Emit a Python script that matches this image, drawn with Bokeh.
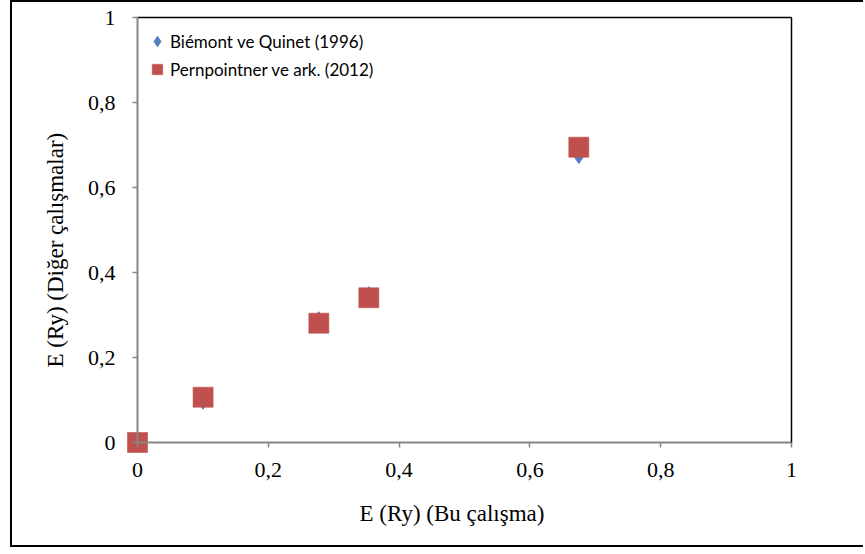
from bokeh.plotting import figure
from bokeh.models import (Range1d, FixedTicker, LinearAxis, Legend, LegendItem,
                          Title, ColumnDataSource)
from bokeh.embed import file_html
from bokeh.resources import INLINE

# ---- data ----
bu_calisma = [0.0, 0.1003, 0.2773, 0.3537, 0.6748]
biemont_quinet = [0.0, 0.096, 0.290, 0.349, 0.674]
pernpointner = [0.0, 0.1066, 0.2808, 0.3405, 0.6948]
series_names = ["Biémont ve Quinet (1996)", "Pernpointner ve ark. (2012)"]
tick_values = [0.0, 0.2, 0.4, 0.6, 0.8, 1.0]
tick_labels = ["0", "0,2", "0,4", "0,6", "0,8", "1"]
x_title = "E (Ry) (Bu çalışma)"
y_title = "E (Ry) (Diğer çalışmalar)"

BLUE = "#4F81BD"
RED = "#C0504D"
AXIS_GRAY = "#868686"
SERIF = "Liberation Serif"

PAD_X = 20 / 654   # room so that markers on the axes are not cut
PAD_Y = 13 / 425

p = figure(width=853, height=547, output_backend="svg", toolbar_location=None,
           x_range=Range1d(-PAD_X, 1 + PAD_X), y_range=Range1d(-PAD_Y, 1 + PAD_Y),
           min_border_left=105, min_border_right=54, min_border_top=2,
           min_border_bottom=94, background_fill_color="white",
           border_fill_color="white", outline_line_color=None)
p.styles = {"margin-left": "10px", "border-left": "2px solid black",
            "border-top": "2px solid black", "border-bottom": "2px solid black"}
p.xgrid.visible = False
p.ygrid.visible = False

# label-only axes (in the side panels)
overrides = {v: l for v, l in zip(tick_values, tick_labels)}
for ax in (p.xaxis[0], p.yaxis[0]):
    ax.ticker = FixedTicker(ticks=tick_values)
    ax.major_label_overrides = overrides
    ax.axis_line_color = None
    ax.major_tick_line_color = None
    ax.major_tick_in = 0
    ax.major_tick_out = 0
    ax.minor_tick_line_color = None
    ax.minor_tick_in = 0
    ax.minor_tick_out = 0
    ax.major_label_text_font = SERIF
    ax.major_label_text_font_size = "22px"
    ax.major_label_text_color = "black"
p.xaxis[0].major_label_standoff = 7
p.yaxis[0].major_label_standoff = 2

# axis lines and tick marks placed at value 0
for side in ("below", "left"):
    ax = LinearAxis(ticker=FixedTicker(ticks=[], minor_ticks=tick_values),
                    fixed_location=0, bounds=(0, 1),
                    axis_line_color=AXIS_GRAY, axis_line_width=2,
                    major_tick_line_color=None, major_tick_in=0, major_tick_out=0,
                    minor_tick_line_color=AXIS_GRAY, minor_tick_line_width=1.5,
                    minor_tick_in=0, minor_tick_out=5)
    p.add_layout(ax, side)

# top and right plot-area border lines
for side in ("above", "right"):
    ax = LinearAxis(ticker=FixedTicker(ticks=[]), axis_line_color="black",
                    axis_line_width=1.5, major_tick_line_color=None,
                    major_tick_in=0, major_tick_out=0,
                    minor_tick_line_color=None, minor_tick_in=0, minor_tick_out=0,
                    fixed_location=1, bounds=(0, 1))
    p.add_layout(ax, side)

src = ColumnDataSource(dict(x=bu_calisma, b=biemont_quinet, r=pernpointner))
r_blue = p.scatter("x", "b", source=src, marker="diamond", size=15,
                   fill_color=BLUE, line_color=BLUE)
r_red = p.scatter("x", "r", source=src, marker="square", size=20,
                  fill_color=RED, line_color=RED, line_alpha=0.6)

legend = Legend(items=[LegendItem(label=series_names[0], renderers=[r_blue]),
                       LegendItem(label=series_names[1], renderers=[r_red])],
                location=(27, 372), orientation="vertical",
                glyph_width=26, glyph_height=28, label_standoff=0,
                spacing=0, padding=0, margin=0,
                border_line_color=None, background_fill_alpha=0,
                label_text_font="Lato", label_text_font_size="17px",
                label_text_color="black", label_height=28)
p.add_layout(legend)

# axis titles
p.add_layout(Title(text=x_title, align="left", offset=242,
                   text_font=SERIF, text_font_size="23px",
                   text_font_style="normal", text_color="black", standoff=38),
             "below")
p.add_layout(Title(text=y_title, align="left", offset=88,
                   text_font=SERIF, text_font_size="23px",
                   text_font_style="normal", text_color="black", standoff=33),
             "left")

open("out.html", "w").write(file_html(p, INLINE))
